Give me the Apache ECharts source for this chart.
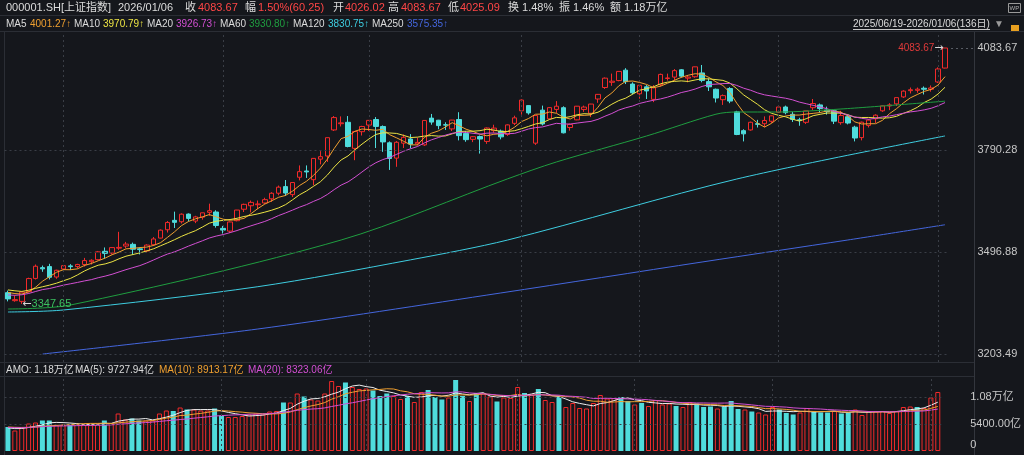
<!DOCTYPE html>
<html>
<head>
<meta charset="utf-8">
<script src="https://cdn.jsdelivr.net/npm/echarts@6/dist/echarts.min.js"></script>
<style>
  html, body { margin: 0; padding: 0; background: #15171c; }
  #main { width: 1024px; height: 455px; }
</style>
</head>
<body>
<div id="main"></div>
<script>
// trading days 2025/06/19 - 2026/01/06 (136日)
const dates = [
  '2025/06/19','2025/06/20','2025/06/23','2025/06/24','2025/06/25','2025/06/26','2025/06/27','2025/06/30',
  '2025/07/01','2025/07/02','2025/07/03','2025/07/04','2025/07/07','2025/07/08','2025/07/09','2025/07/10','2025/07/11',
  '2025/07/14','2025/07/15','2025/07/16','2025/07/17','2025/07/18','2025/07/21','2025/07/22','2025/07/23','2025/07/24',
  '2025/07/25','2025/07/28','2025/07/29','2025/07/30','2025/07/31',
  '2025/08/01','2025/08/04','2025/08/05','2025/08/06','2025/08/07','2025/08/08','2025/08/11','2025/08/12','2025/08/13',
  '2025/08/14','2025/08/15','2025/08/18','2025/08/19','2025/08/20','2025/08/21','2025/08/22','2025/08/25','2025/08/26',
  '2025/08/27','2025/08/28','2025/08/29',
  '2025/09/01','2025/09/02','2025/09/03','2025/09/04','2025/09/05','2025/09/08','2025/09/09','2025/09/10','2025/09/11',
  '2025/09/12','2025/09/15','2025/09/16','2025/09/17','2025/09/18','2025/09/19','2025/09/22','2025/09/23','2025/09/24',
  '2025/09/25','2025/09/26','2025/09/29','2025/09/30',
  '2025/10/09','2025/10/10','2025/10/13','2025/10/14','2025/10/15','2025/10/16','2025/10/17','2025/10/20','2025/10/21',
  '2025/10/22','2025/10/23','2025/10/24','2025/10/27','2025/10/28','2025/10/29','2025/10/30','2025/10/31',
  '2025/11/03','2025/11/04','2025/11/05','2025/11/06','2025/11/07','2025/11/10','2025/11/11','2025/11/12','2025/11/13',
  '2025/11/14','2025/11/17','2025/11/18','2025/11/19','2025/11/20','2025/11/21','2025/11/24','2025/11/25','2025/11/26',
  '2025/11/27','2025/11/28',
  '2025/12/01','2025/12/02','2025/12/03','2025/12/04','2025/12/05','2025/12/08','2025/12/09','2025/12/10','2025/12/11',
  '2025/12/12','2025/12/15','2025/12/16','2025/12/17','2025/12/18','2025/12/19','2025/12/22','2025/12/23','2025/12/24',
  '2025/12/25','2025/12/26','2025/12/29','2025/12/30','2025/12/31',
  '2026/01/05','2026/01/06'
];

const opens = [
  3380,3357,3355,3383,3421,3452,3455,3425,3448,3457,
  3455,3461,3469,3475,3499,3494,3508,3514,3519,3506,
  3500,3518,3537,3561,3588,3584,3606,3586,3597,3611,
  3612,3565,3557,3587,3620,3630,3633,3638,3650,3666,
  3685,3662,3712,3730,3705,3764,3773,3848,3866,3870,
  3795,3843,3862,3878,3858,3811,3767,3810,3822,3808,
  3805,3882,3876,3863,3851,3878,3838,3821,3829,3815,
  3846,3845,3835,3867,3903,3918,3810,3905,3880,3907,
  3912,3855,3877,3907,3896,3937,3970,3985,3990,4020,
  3980,3952,3972,3936,3978,3996,4000,4021,3997,4001,
  4012,3987,3965,3935,3967,3900,3846,3848,3866,3866,
  3873,3899,3914,3893,3877,3870,3912,3920,3905,3903,
  3869,3886,3856,3826,3861,3880,3903,3917,3923,3943,
  3961,3962,3968,3965,3986,4026.02
];
const closes = [
  3362.11,3359.90,3381.58,3420.57,3455.97,3448.45,3424.23,3444.43,3457.75,3454.79,
  3461.15,3472.32,3473.13,3497.48,3493.05,3509.68,3510.18,3519.65,3505.00,3503.78,
  3516.83,3534.48,3559.79,3581.86,3582.30,3605.73,3593.66,3597.94,3609.71,3615.72,
  3573.21,3559.95,3583.31,3617.60,3633.99,3639.67,3635.13,3647.55,3665.92,3683.46,
  3666.44,3696.77,3728.03,3727.29,3766.21,3771.10,3825.76,3883.56,3868.38,3800.35,
  3843.60,3857.93,3875.53,3858.13,3813.56,3765.88,3812.51,3826.84,3807.29,3812.22,
  3875.31,3870.60,3860.50,3861.87,3876.34,3831.66,3820.09,3828.58,3821.83,3853.64,
  3853.30,3828.11,3862.53,3882.78,3933.97,3897.03,3889.50,3865.23,3912.21,3916.23,
  3839.76,3863.89,3916.33,3913.76,3922.41,3950.31,3996.94,3988.22,4016.33,3986.90,
  3954.79,3976.52,3960.19,3969.25,4007.76,3997.56,4018.60,4002.76,4000.14,4029.50,
  3990.49,3972.03,3939.81,3946.74,3931.05,3834.89,3836.77,3870.02,3864.18,3875.26,
  3888.60,3914.01,3897.71,3878.00,3875.79,3902.81,3924.08,3909.52,3900.50,3873.32,
  3889.35,3867.92,3824.81,3870.28,3876.37,3890.45,3917.36,3919.98,3940.95,3959.62,
  3963.68,3965.28,3965.12,3968.84,4023.42,4083.67
];
const lows = [
  3355,3354,3347.65,3381,3418,3440,3418,3420,3440,3445,
  3450,3455,3461,3473,3478,3490,3503,3508,3489,3490,
  3496,3515,3536,3553,3566,3579,3585,3580,3590,3601,
  3567,3550,3552,3585,3612,3611,3620,3635,3641,3660,
  3658,3655,3703,3710,3689,3749,3756,3845,3858,3798,
  3761,3832,3845,3796,3785,3733,3742,3796,3795,3803,
  3802,3863,3850,3848,3845,3818,3814,3813,3780,3808,
  3840,3821,3831,3862,3892,3892,3805,3861,3879,3897,
  3838,3846,3876,3900,3885,3926,3966,3975,3988,3980,
  3950,3938,3937,3928,3973,3990,3990,3999,3985,3998,
  3985,3960,3927,3920,3925,3833,3815,3846,3855,3856,
  3868,3897,3893,3871,3860,3865,3905,3898,3892,3865,
  3863,3864,3815,3818,3855,3868,3900,3905,3917,3940,
  3953,3955,3950,3958,3983,4025.09
];
const highs = [
  3386,3372,3383,3423,3461,3458,3463,3446,3459,3462,
  3463,3480,3476,3500,3510,3511,3555,3526,3524,3510,
  3519,3540,3562,3586,3613,3608,3608,3601,3610,3636,
  3617,3572,3585,3618,3636,3645,3645,3653,3669,3688,
  3704,3698,3746,3746,3767,3787,3826,3888,3887,3888,
  3845,3860,3876,3885,3861,3815,3816,3835,3836,3826,
  3875.5,3894,3877,3870,3877,3899,3845,3830,3832,3855,
  3863,3849,3864,3889,3936,3919,3891,3918,3914,3931,
  3916,3866,3917,3918,3923,3951,3999,4010,4016.5,4025.7,
  3985,3977,3977,3977,4010,4010,4023,4023,4006,4030,
  4034.8,3996,3967,3950,3971,3903,3850,3872,3877,3887,
  3890,3917,3918,3900,3883,3903,3937,3924,3915,3906,
  3903,3891,3860,3872,3879,3893,3918,3925,3941,3962,
  3970,3970,3973,3976,4028,4083.67
];
// 成交额 (亿)
const volumes = [
  4800,4100,4700,5500,5700,6100,6100,5200,5300,5300,
  5500,5300,5200,5500,6100,5500,7500,6300,6500,6100,
  6100,6100,7500,8100,8000,8700,8300,8300,8100,8100,
  8500,7100,6800,6800,7000,7300,7500,7300,7900,8000,
  9700,9700,11500,10900,10300,10100,11500,14000,13000,13700,
  12800,12400,12500,12100,11000,11500,11000,10400,11000,9800,
  11800,12200,10800,10300,10700,14200,11000,10000,11600,11500,
  10900,9900,10700,10600,12800,11600,11300,12400,10200,9800,
  10800,8800,9600,8600,8500,9600,11200,10500,10600,10800,
  10000,9300,9600,9000,10200,9300,9500,9000,8800,9800,
  9500,8800,8900,8500,8900,10000,8400,8300,7900,7700,
  7300,8800,8300,7600,7300,7700,8600,7900,7700,7700,
  8000,7500,7700,8300,7200,8000,7900,8000,7600,8000,
  8800,8900,8800,8600,10700,11800
];
// the 19 sessions before the window, needed to start MA5/10/20
const priorCloses = [3380.19,3348.37,3346.84,3340.69,3339.93,3363.45,3347.49,3361.98,3376.20,3384.10,
  3385.36,3399.77,3384.82,3402.32,3402.66,3377.00,3388.73,3387.40,3388.81];
const priorVolumes = [5200,4900,4500,4300,4400,4600,4700,4500,4600,4900,4700,5000,5200,5100,4800,4900,4600,4500,4400];

// long averages: [day index, value]
const ma60Points = [[0,3333.0],[9,3344.5],[48,3531.5],[72,3707.5],[79,3755.8],[92,3830.6],[102,3893.3],[105,3899.6],[111,3899.6],[120,3908.2],[135,3930.80]];
const ma120Points = [[0,3324.4],[8,3330.2],[36,3397.2],[58,3474.4],[72,3531.5],[105,3706.9],[135,3830.75]];
const ma250Points = [[5,3203.6],[36,3275.5],[71,3379.1],[100,3468.2],[121,3531.5],[135,3575.35]];

const priceTicks = [3203.49, 3496.88, 3790.28, 4083.67];
const volumeTicks = [0, 5400, 10800];
const monthStarts = ['2025/07/01','2025/08/01','2025/09/01','2025/10/09','2025/11/03','2025/12/01','2026/01/05'];

const BG = '#15171c';
const RED = '#f22a2a';
const CYAN = '#4fdcdc';
const TXT = '#dcdcdc';
const C_MA5 = '#f0a030', C_MA10 = '#ece444', C_MA20 = '#d24fd2';
const C_MA60 = '#1f9e40', C_MA120 = '#3ecde0', C_MA250 = '#4466dd';
const FONT = '"Liberation Sans","Noto Sans CJK SC",sans-serif';
const ARROW_FONT = '"DejaVu Sans",sans-serif';

function movingAvg(prior, values, n) {
  const all = prior.concat(values);
  return values.map(function (v, i) {
    const end = prior.length + i;
    if (end - n + 1 < 0) return '-';
    let s = 0;
    for (let k = end - n + 1; k <= end; k++) s += all[k];
    return +(s / n).toFixed(2);
  });
}

const ma5 = movingAvg(priorCloses, closes, 5);
const ma10 = movingAvg(priorCloses, closes, 10);
const ma20 = movingAvg(priorCloses, closes, 20);
const vma5 = movingAvg(priorVolumes, volumes, 5);
const vma10 = movingAvg(priorVolumes, volumes, 10);
const vma20 = movingAvg(priorVolumes, volumes, 20);

const candleData = dates.map(function (d, i) { return [opens[i], closes[i], lows[i], highs[i]]; });
const volumeData = volumes.map(function (v, i) {
  const up = closes[i] >= opens[i];
  return {
    value: v,
    itemStyle: up ? { color: BG, borderColor: RED, borderWidth: 1 } : { color: CYAN, borderWidth: 0 }
  };
});

function txt(x, y, text, fill, size) {
  return { type: 'text', silent: true, style: { x: x, y: y, text: text, fill: fill, font: size + 'px ' + FONT, verticalAlign: 'middle' } };
}
function hline(y, x1, x2) {
  return { type: 'line', silent: true, shape: { x1: x1, y1: y, x2: x2, y2: y }, style: { stroke: '#2b2e35', lineWidth: 1 } };
}
const lastOf = function (a) { return a[a.length - 1]; };
const lastPt = function (a) { return a[a.length - 1][1].toFixed(2); };

const graphic = [
  hline(15.5, 0, 1024), hline(31.5, 0, 1024), hline(362.5, 0, 974), hline(376.5, 0, 974),
  { type: 'line', silent: true, shape: { x1: 974.5, y1: 32, x2: 974.5, y2: 455 }, style: { stroke: '#33363d', lineWidth: 1 } },
  { type: 'line', silent: true, shape: { x1: 4.5, y1: 32, x2: 4.5, y2: 455 }, style: { stroke: '#2b2e35', lineWidth: 1 } },
  // header row 1
  txt(6, 8, '000001.SH[上证指数]', TXT, 11),
  txt(118, 8, '2026/01/06', TXT, 11),
  txt(185, 8, '收', TXT, 11), txt(198, 8, '4083.67', '#ff4646', 11),
  txt(245, 8, '幅', TXT, 11), txt(258, 8, '1.50%(60.25)', '#ff4646', 11),
  txt(333, 8, '开', TXT, 11), txt(345, 8, '4026.02', '#ff4646', 11),
  txt(388, 8, '高', TXT, 11), txt(401, 8, '4083.67', '#ff4646', 11),
  txt(448, 8, '低', TXT, 11), txt(460, 8, '4025.09', '#ff4646', 11),
  txt(508, 8, '换 1.48%', TXT, 11), txt(559, 8, '振 1.46%', TXT, 11), txt(610, 8, '额 1.18万亿', TXT, 11),
  // header row 2 (MA legend)
  txt(6, 24, 'MA5', TXT, 10), txt(30, 24, lastOf(ma5).toFixed(2) + '↑', C_MA5, 10),
  txt(74, 24, 'MA10', TXT, 10), txt(103, 24, lastOf(ma10).toFixed(2) + '↑', C_MA10, 10),
  txt(147, 24, 'MA20', TXT, 10), txt(176, 24, lastOf(ma20).toFixed(2) + '↑', C_MA20, 10),
  txt(220, 24, 'MA60', TXT, 10), txt(249, 24, lastPt(ma60Points) + '↑', C_MA60, 10),
  txt(293, 24, 'MA120', TXT, 10), txt(328, 24, lastPt(ma120Points) + '↑', C_MA120, 10),
  txt(372, 24, 'MA250', TXT, 10), txt(407, 24, lastPt(ma250Points) + '↑', C_MA250, 10),
  txt(853, 24, dates[0] + '-' + lastOf(dates) + '(' + dates.length + '日)', TXT, 10),
  { type: 'line', silent: true, shape: { x1: 853, y1: 29.5, x2: 990, y2: 29.5 }, style: { stroke: '#c8c8c8', lineWidth: 1 } },
  txt(994, 24, '▼', '#9a9a9a', 10),
  { type: 'rect', silent: true, shape: { x: 1011, y: 25, width: 8, height: 6 }, style: { fill: '#e8a020' } },
  { type: 'rect', silent: true, shape: { x: 1008.5, y: 3.5, width: 12, height: 9 }, style: { fill: 'none', stroke: '#9a9a9a', lineWidth: 1 } },
  txt(1009.5, 8, 'WP', '#b0b0b0', 6),
  // volume header
  txt(6, 370, 'AMO: 1.18万亿', TXT, 10),
  txt(75, 370, 'MA(5): 9727.94亿', TXT, 10),
  txt(159, 370, 'MA(10): 8913.17亿', C_MA5, 10),
  txt(248, 370, 'MA(20): 8323.06亿', C_MA20, 10)
];

const gridLine = { color: '#3a3e46', type: [2, 3], width: 1 };

const option = {
  backgroundColor: BG,
  animation: false,
  graphic: graphic,
  grid: [
    { left: 4.5, width: 944, top: 32, height: 330 },
    { left: 4.5, width: 944, top: 377, height: 74 }
  ],
  xAxis: [0, 1].map(function (g) {
    return {
      type: 'category', gridIndex: g, data: dates, boundaryGap: true,
      axisLine: { show: false }, axisTick: { show: false }, axisLabel: { show: false }, splitLine: { show: false }
    };
  }),
  yAxis: [
    {
      type: 'value', gridIndex: 0, position: 'right', min: 3180.6, max: 4129.7,
      axisLine: { show: false }, axisTick: { show: false }, splitLine: { show: false },
      axisLabel: {
        customValues: priceTicks, margin: 29, align: 'left', color: '#c8c8c8', fontSize: 11, fontFamily: FONT,
        formatter: function (v) { return v.toFixed(2); }
      }
    },
    {
      type: 'value', gridIndex: 1, position: 'right', min: 0, max: 14800,
      axisLine: { show: false }, axisTick: { show: false }, splitLine: { show: false },
      axisLabel: {
        customValues: volumeTicks, margin: 29, align: 'left', color: '#c8c8c8', fontSize: 11, fontFamily: FONT,
        formatter: function (v) {
          if (v === 0) return '{z|0}';
          return v >= 10000 ? (v / 10000).toFixed(2) + '万亿' : v.toFixed(2) + '亿';
        },
        rich: { z: { padding: [0, 0, 12, 0], color: '#c8c8c8', fontSize: 11 } }
      }
    }
  ],
  series: [
    {
      type: 'candlestick', name: 'K', xAxisIndex: 0, yAxisIndex: 0, data: candleData, barWidth: 5,
      itemStyle: { color: BG, color0: CYAN, borderColor: RED, borderColor0: CYAN, borderWidth: 1 },
      markLine: {
        silent: true, symbol: ['none', 'none'], label: { show: false }, lineStyle: gridLine,
        data: monthStarts.map(function (d) { return { xAxis: d }; })
          .concat(priceTicks.slice(0, 3).map(function (v) { return { yAxis: v }; }))
      },
      markPoint: {
        silent: true, symbol: 'circle', symbolSize: 1, itemStyle: { color: 'rgba(0,0,0,0)' },
        label: {
          fontSize: 10, fontFamily: FONT,
          rich: {
            r: { color: '#e03a3a', fontSize: 10, fontFamily: FONT },
            g: { color: '#3cc060', fontSize: 11, fontFamily: FONT },
            a: { color: '#d8d8d8', fontSize: 11, fontFamily: ARROW_FONT }
          }
        },
        data: [
          { type: 'max', valueDim: 'highest', label: { position: 'left', distance: 1, formatter: function (p) { return '{r|' + p.value.toFixed(2) + '}{a|→}'; } } },
          { type: 'min', valueDim: 'lowest', label: { position: 'right', distance: 0, formatter: function (p) { return '{a|←}{g|' + p.value.toFixed(2) + '}'; } } }
        ]
      },
      z: 2
    },
    { type: 'line', name: 'MA5', data: ma5, showSymbol: false, lineStyle: { width: 1, color: C_MA5 }, z: 3 },
    { type: 'line', name: 'MA10', data: ma10, showSymbol: false, lineStyle: { width: 1, color: C_MA10 }, z: 3 },
    { type: 'line', name: 'MA20', data: ma20, showSymbol: false, lineStyle: { width: 1, color: C_MA20 }, z: 3 },
    { type: 'line', name: 'MA60', data: ma60Points, showSymbol: false, smooth: 0.3, lineStyle: { width: 1, color: C_MA60 }, z: 3 },
    { type: 'line', name: 'MA120', data: ma120Points, showSymbol: false, smooth: 0.3, lineStyle: { width: 1, color: C_MA120 }, z: 3 },
    { type: 'line', name: 'MA250', data: ma250Points, showSymbol: false, smooth: 0.3, lineStyle: { width: 1, color: C_MA250 }, z: 3 },
    {
      type: 'bar', name: 'AMO', xAxisIndex: 1, yAxisIndex: 1, data: volumeData, barWidth: 5,
      markLine: {
        silent: true, symbol: ['none', 'none'], label: { show: false }, lineStyle: gridLine,
        data: monthStarts.map(function (d) { return { xAxis: d }; })
          .concat(volumeTicks.slice(1).map(function (v) { return { yAxis: v }; }))
      }
    },
    { type: 'line', name: 'VMA5', xAxisIndex: 1, yAxisIndex: 1, data: vma5, showSymbol: false, lineStyle: { width: 1, color: '#eeeeee' } },
    { type: 'line', name: 'VMA10', xAxisIndex: 1, yAxisIndex: 1, data: vma10, showSymbol: false, lineStyle: { width: 1, color: C_MA5 } },
    { type: 'line', name: 'VMA20', xAxisIndex: 1, yAxisIndex: 1, data: vma20, showSymbol: false, lineStyle: { width: 1, color: C_MA20 } }
  ]
};

const chart = echarts.init(document.getElementById('main'), null, { renderer: 'canvas' });
chart.setOption(option);

// short dotted line from the top candle to the price axis
const topPx = chart.convertToPixel({ xAxisIndex: 0, yAxisIndex: 0 }, [dates.length - 1, highs[highs.length - 1]]);
chart.setOption({
  graphic: graphic.concat([{
    type: 'line', silent: true,
    shape: { x1: topPx[0] + 1, y1: Math.round(topPx[1]) + 0.5, x2: 974, y2: Math.round(topPx[1]) + 0.5 },
    style: { stroke: '#5a5e66', lineWidth: 1, lineDash: [2, 3] }
  }])
});
</script>
</body>
</html>
